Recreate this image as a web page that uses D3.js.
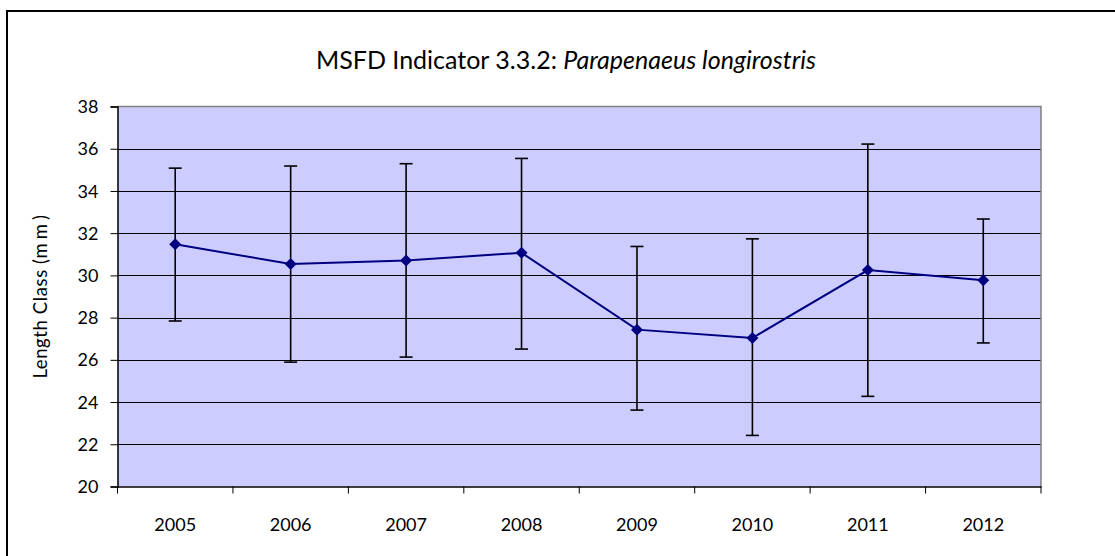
<!DOCTYPE html>
<html>
<head>
<meta charset="utf-8">
<script src="https://cdn.jsdelivr.net/npm/d3@7"></script>
<style>
  html, body { margin: 0; padding: 0; background: #fff; }
  svg { display: block; }
  text { font-family: Lato, "Open Sans", sans-serif; fill: #000; }
</style>
</head>
<body>
<svg id="chart" width="1115" height="556"></svg>
<script>
// Mean length class per survey year, with upper and lower error limits
const years = ["2005", "2006", "2007", "2008", "2009", "2010", "2011", "2012"];
const means = [31.47, 30.54, 30.71, 31.07, 27.43, 27.04, 30.25, 29.77];
const upper = [35.08, 35.18, 35.29, 35.54, 31.37, 31.73, 36.22, 32.67];
const lower = [27.84, 25.89, 26.13, 26.51, 23.62, 22.42, 24.27, 26.80];
const yTicks = [20, 22, 24, 26, 28, 30, 32, 34, 36, 38];

const svg = d3.select("#chart");

// outer chart frame
svg.append("rect")
  .attr("x", 7).attr("y", 11)
  .attr("width", 1130).attr("height", 570)
  .attr("fill", "none").attr("stroke", "#000").attr("stroke-width", 2);

const plot = { left: 117.5, right: 1041, top: 106.5, bottom: 486.5 };

const x = d3.scaleBand().domain(years).range([plot.left, plot.right]).padding(0);
const y = d3.scaleLinear().domain([20, 38]).range([plot.bottom, plot.top]);
const cx = d => x(d) + x.bandwidth() / 2;

// plot area background
svg.append("rect")
  .attr("x", plot.left).attr("y", plot.top)
  .attr("width", plot.right - plot.left).attr("height", plot.bottom - plot.top)
  .attr("fill", "#ccccff");

// horizontal gridlines
svg.append("g")
  .selectAll("line")
  .data(yTicks.filter(t => t > 20 && t < 38))
  .join("line")
  .attr("x1", plot.left).attr("x2", plot.right)
  .attr("y1", d => Math.round(y(d)) + 0.5).attr("y2", d => Math.round(y(d)) + 0.5)
  .attr("stroke", "#000").attr("stroke-width", 1);

// top and right border of the plot area
svg.append("path")
  .attr("d", `M${plot.left},${plot.top}H${plot.right}V${plot.bottom}`)
  .attr("fill", "none").attr("stroke", "#808080").attr("stroke-width", 1.5);

// y axis
const yAxis = svg.append("g")
  .attr("transform", `translate(${plot.left},0)`)
  .call(d3.axisLeft(y).tickValues(yTicks).tickSize(7).tickPadding(12).tickFormat(d3.format("d")));
yAxis.select(".domain").attr("stroke", "#000").attr("stroke-width", 1.5);
yAxis.selectAll(".tick line").attr("stroke", "#000");
yAxis.selectAll(".tick text").attr("font-size", 18).attr("dy", "0.34em");

// x axis: labels centred on categories, ticks at category boundaries
const xAxis = svg.append("g")
  .attr("transform", `translate(0,${plot.bottom})`)
  .call(d3.axisBottom(x).tickSize(0).tickPadding(32));
xAxis.select(".domain").attr("stroke", "#000").attr("stroke-width", 1.5);
xAxis.selectAll(".tick text").attr("font-size", 18);

const boundaries = years.map(d => x(d)).concat([x(years[years.length - 1]) + x.bandwidth()]);
svg.append("g")
  .selectAll("line")
  .data(boundaries)
  .join("line")
  .attr("x1", d => d).attr("x2", d => d)
  .attr("y1", plot.bottom).attr("y2", plot.bottom + 7)
  .attr("stroke", "#000").attr("stroke-width", 1);

// error bars
const capHalf = 6.5;
const errG = svg.append("g").attr("stroke", "#000").attr("stroke-width", 1.6);
years.forEach((yr, i) => {
  const px = cx(yr);
  errG.append("line").attr("x1", px).attr("x2", px).attr("y1", y(lower[i])).attr("y2", y(upper[i]));
  errG.append("line").attr("x1", px - capHalf).attr("x2", px + capHalf).attr("y1", y(upper[i])).attr("y2", y(upper[i]));
  errG.append("line").attr("x1", px - capHalf).attr("x2", px + capHalf).attr("y1", y(lower[i])).attr("y2", y(lower[i]));
});

// mean line
const pts = years.map((yr, i) => [cx(yr), y(means[i])]);
svg.append("path")
  .attr("d", d3.line()(pts))
  .attr("fill", "none").attr("stroke", "#000080").attr("stroke-width", 2);

// diamond markers
svg.append("g")
  .selectAll("path")
  .data(pts)
  .join("path")
  .attr("d", d3.symbol(d3.symbolSquare, 72))
  .attr("transform", d => `translate(${d[0]},${d[1]}) rotate(45)`)
  .attr("fill", "#000080");

// title
const title = svg.append("text")
  .attr("x", 566).attr("y", 69)
  .attr("text-anchor", "middle")
  .attr("font-size", 25);
title.append("tspan").text("MSFD Indicator 3.3.2: ");
title.append("tspan").attr("font-style", "italic").text("Parapenaeus longirostris");

// y axis title
const yTitle = svg.append("text")
  .attr("transform", `translate(47,${(plot.top + plot.bottom) / 2}) rotate(-90)`)
  .attr("text-anchor", "middle")
  .attr("font-size", 18.5)
  .attr("letter-spacing", 0.6);
yTitle.append("tspan").text("Length Class (");
yTitle.append("tspan").attr("letter-spacing", 4).text("mm");
yTitle.append("tspan").text(")");
</script>
</body>
</html>
